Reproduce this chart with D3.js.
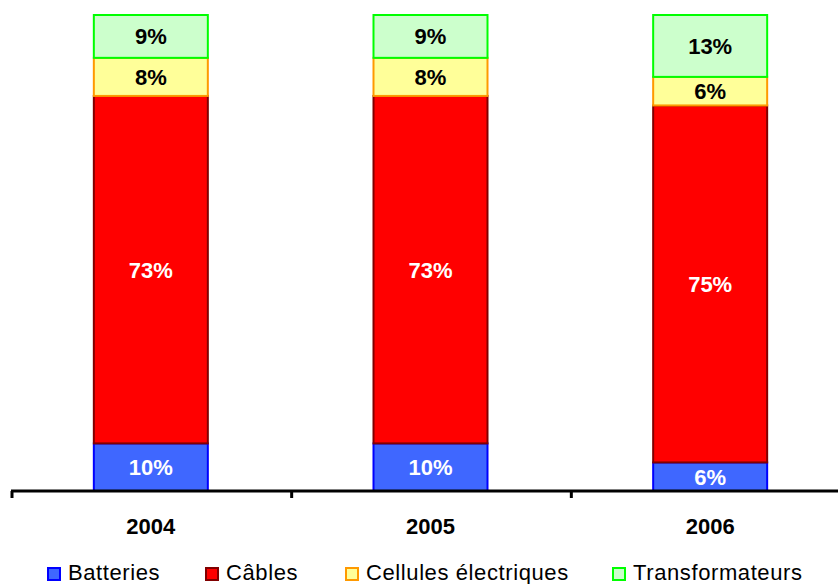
<!DOCTYPE html>
<html><head><meta charset="utf-8">
<script src="https://cdn.jsdelivr.net/npm/d3@7"></script>
<style>body{margin:0;background:#fff}svg{display:block}text{font-family:"Liberation Sans",Arial,sans-serif}</style>
</head><body><svg id="c" width="838" height="584"></svg>
<script>
const years = ["2004","2005","2006"];
const seriesNames = ["Batteries","Câbles","Cellules électriques","Transformateurs"];
const batteries = [10,10,6];
const cables = [73,73,75];
const cellules = [8,8,6];
const transformateurs = [9,9,13];
const fills = ["#3F67FF","#FF0000","#FFFF99","#CCFFCC"];
const strokes = ["#0000FF","#800000","#FF9900","#00FF00"];
const labelColors = ["#fff","#fff","#000","#000"];

const svg = d3.select("#c");
const table = years.map((y,i)=>({year:y,Batteries:batteries[i],"Câbles":cables[i],"Cellules électriques":cellules[i],Transformateurs:transformateurs[i]}));
const stack = d3.stack().keys(seriesNames)(table);

const x = d3.scaleBand().domain(years).range([11,850]).paddingInner(0).paddingOuter(0);
const y = d3.scaleLinear().domain([0,100]).range([491,15]);
const bw = 114;

const groups = svg.selectAll("g.s").data(stack).join("g").attr("class","s");
groups.each(function(s,si){
  const g = d3.select(this);
  g.selectAll("rect").data(s).join("rect")
    .attr("x",d=>x(d.data.year)+x.bandwidth()/2-bw/2)
    .attr("y",d=>y(d[1]))
    .attr("width",bw)
    .attr("height",d=>y(d[0])-y(d[1]))
    .attr("fill",fills[si]).attr("stroke",strokes[si]).attr("stroke-width",2);
  g.selectAll("text").data(s).join("text")
    .attr("x",d=>x(d.data.year)+x.bandwidth()/2)
    .attr("y",d=>(y(d[0])+y(d[1]))/2)
    .attr("dy","0.36em")
    .attr("text-anchor","middle")
    .attr("font-size",22).attr("font-weight","bold")
    .attr("fill",labelColors[si])
    .text(d=>(d[1]-d[0])+"%");
});

// axis
const ax = svg.append("g").attr("transform","translate(0,491)");
ax.append("line").attr("x1",11).attr("x2",838).attr("y1",0).attr("y2",0).attr("stroke","#000").attr("stroke-width",3);
const tickXs = years.map(d=>x(d));
ax.selectAll("line.t").data(tickXs).join("line").attr("class","t")
  .attr("x1",d=>d+1).attr("x2",d=>d+1).attr("y1",0).attr("y2",7).attr("stroke","#000").attr("stroke-width",3);
svg.append("g").selectAll("text").data(years).join("text")
  .attr("x",d=>x(d)+x.bandwidth()/2).attr("y",534)
  .attr("text-anchor","middle").attr("font-size",22).attr("font-weight","bold").text(d=>d);

// legend
const legX = [47,205,345,612];
const leg = svg.append("g");
seriesNames.forEach((n,i)=>{
  leg.append("rect").attr("x",legX[i]+1).attr("y",568).attr("width",12).attr("height",12)
    .attr("fill",fills[i]).attr("stroke",strokes[i]).attr("stroke-width",2);
  leg.append("text").attr("x",legX[i]+21).attr("y",580).attr("font-size",22)
    .attr("letter-spacing",0.6).text(n);
});
</script></body></html>
